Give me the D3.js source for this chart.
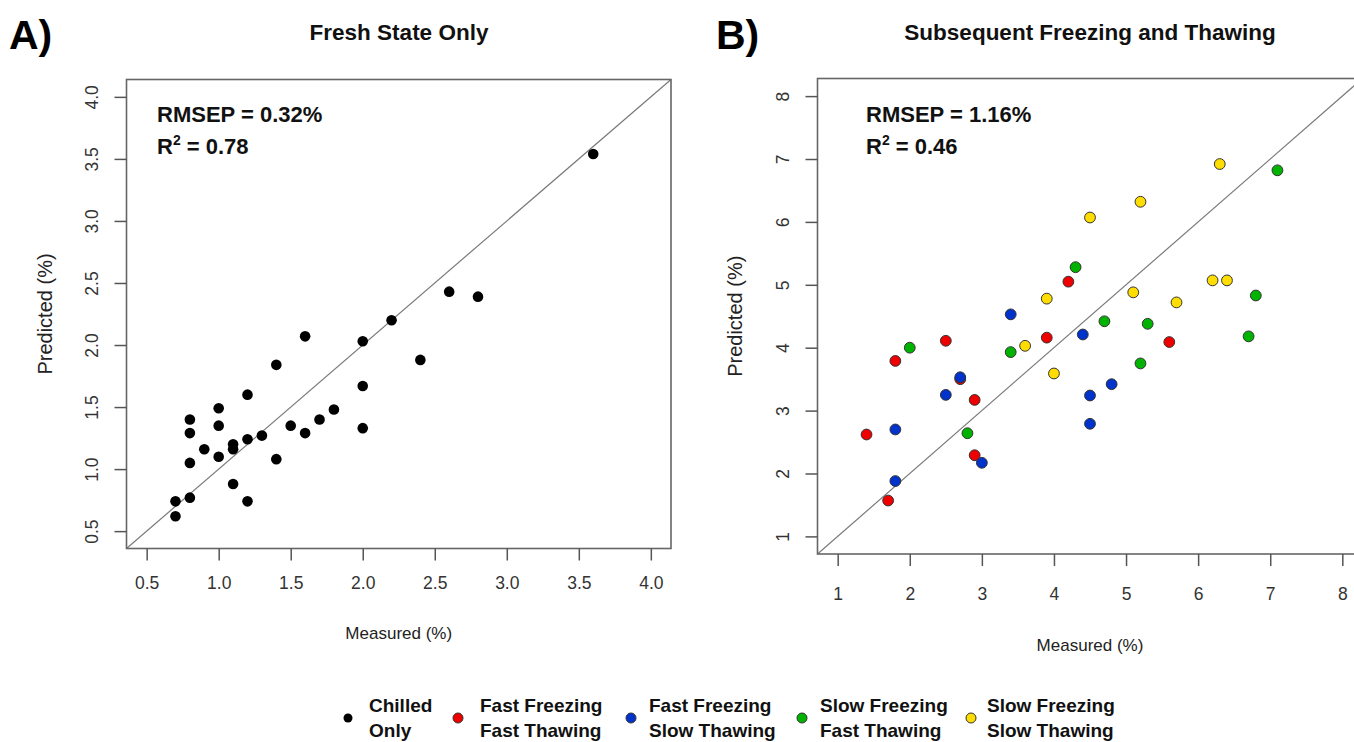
<!DOCTYPE html>
<html><head><meta charset="utf-8">
<script src="https://cdn.jsdelivr.net/npm/d3@7"></script>
<style>
html,body{margin:0;padding:0;background:#fff;overflow:hidden;}
text{font-family:"Liberation Sans",Arial,sans-serif;}
</style></head>
<body>
<svg id="chart" width="1354" height="742"></svg>
<script>
// ---------- DATA ----------
const ticksA = [0.5, 1.0, 1.5, 2.0, 2.5, 3.0, 3.5, 4.0];
const ticksB = [1, 2, 3, 4, 5, 6, 7, 8];

// Panel A: Chilled only (measured, predicted)
const chilledX = [3.6, 2.6, 2.8, 2.2, 1.6, 2.0, 1.4, 2.4, 2.0, 1.2, 1.0, 1.8, 0.8, 1.7, 1.0, 1.5, 2.0, 0.8, 1.6, 1.3, 1.2, 1.1, 1.1, 0.9, 1.0, 1.4, 0.8, 1.1, 0.8, 0.7, 1.2, 0.7];
const chilledY = [3.54, 2.43, 2.39, 2.20, 2.07, 2.03, 1.84, 1.88, 1.67, 1.60, 1.49, 1.48, 1.40, 1.40, 1.35, 1.35, 1.33, 1.29, 1.29, 1.27, 1.24, 1.20, 1.16, 1.16, 1.10, 1.08, 1.05, 0.88, 0.77, 0.74, 0.74, 0.62];

// Panel B
const ffftX = [4.2, 3.9, 2.5, 5.6, 1.8, 2.7, 2.9, 1.4, 2.9, 1.7];
const ffftY = [5.05, 4.16, 4.11, 4.09, 3.79, 3.50, 3.17, 2.62, 2.29, 1.57];
const ffstX = [3.4, 4.4, 2.7, 4.8, 2.5, 4.5, 1.8, 4.5, 3.0, 1.8];
const ffstY = [4.53, 4.21, 3.53, 3.42, 3.25, 3.24, 2.70, 2.79, 2.17, 1.88];
const sfftX = [7.1, 4.3, 6.8, 4.7, 5.3, 6.7, 2.0, 3.4, 5.2, 2.8];
const sfftY = [6.82, 5.28, 4.83, 4.42, 4.38, 4.18, 4.00, 3.93, 3.75, 2.64];
const sfstX = [6.3, 5.2, 4.5, 6.2, 6.4, 5.1, 3.9, 5.7, 3.6, 4.0];
const sfstY = [6.92, 6.32, 6.07, 5.07, 5.07, 4.88, 4.78, 4.72, 4.03, 3.59];

const legendLine1 = ["Chilled", "Fast Freezing", "Fast Freezing", "Slow Freezing", "Slow Freezing"];
const legendLine2 = ["Only", "Fast Thawing", "Slow Thawing", "Fast Thawing", "Slow Thawing"];
const legendColors = ["#000000", "#ee0000", "#0033cc", "#00b300", "#ffdd00"];

// ---------- DRAW ----------
const svg = d3.select("#chart");
const LABEL = "'Lato','Open Sans',sans-serif";

function panel(opts) {
  const {x0, x1, y0, y1, lim, ticks, fmt, title, titleX, letter, letterX, rmsep, r2, statX, xlabY, ylabX, xPad} = opts;
  const ext = (lim[1] - lim[0]) * 0.04;
  const dom = [lim[0] - ext, lim[1] + ext];
  const x = d3.scaleLinear().domain(dom).range([x0, x1]);
  const y = d3.scaleLinear().domain(dom).range([y1, y0]);
  const g = svg.append("g");

  // diagonal 1:1 line
  g.append("line")
    .attr("x1", x(dom[0])).attr("y1", y(dom[0]))
    .attr("x2", x(dom[1])).attr("y2", y(dom[1]))
    .attr("stroke", "#7a7a7a").attr("stroke-width", 1.2);

  // box
  g.append("rect").attr("x", x0).attr("y", y0)
    .attr("width", x1 - x0).attr("height", y1 - y0)
    .attr("fill", "none").attr("stroke", "#666").attr("stroke-width", 1.6);

  // x axis
  const gx = g.append("g").attr("transform", `translate(0,${y1})`)
    .call(d3.axisBottom(x).tickValues(ticks).tickFormat(fmt).tickSize(12).tickPadding(xPad));
  gx.select(".domain").remove();
  gx.selectAll(".tick line").attr("stroke", "#555").attr("stroke-width", 1.5);
  gx.selectAll(".tick text").attr("font-size", 17.5).attr("fill", "#333")
    .attr("font-family", "'Liberation Sans',Arial,sans-serif");

  // y axis
  const gy = g.append("g").attr("transform", `translate(${x0},0)`)
    .call(d3.axisLeft(y).tickValues(ticks).tickFormat(fmt).tickSize(12));
  gy.select(".domain").remove();
  gy.selectAll(".tick line").attr("stroke", "#555").attr("stroke-width", 1.5);
  gy.selectAll(".tick text").attr("font-size", 17.5).attr("fill", "#333")
    .attr("font-family", "'Liberation Sans',Arial,sans-serif")
    .attr("x", null).attr("dy", null)
    .attr("text-anchor", "middle")
    .attr("transform", "translate(-29,0) rotate(-90)");

  // axis labels
  g.append("text").attr("x", (x0 + x1) / 2).attr("y", xlabY)
    .attr("text-anchor", "middle").attr("font-size", 17).attr("fill", "#222")
    .text("Measured (%)");
  g.append("text").attr("transform", `translate(${ylabX},${(y0 + y1) / 2}) rotate(-90)`)
    .attr("text-anchor", "middle").attr("font-size", 20).attr("fill", "#222")
    .text("Predicted (%)");

  // title and letter
  g.append("text").attr("x", titleX).attr("y", 40).attr("text-anchor", "middle")
    .attr("font-size", 22.5).attr("font-weight", "bold").attr("fill", "#111").text(title);
  g.append("text").attr("x", letterX).attr("y", 49)
    .attr("font-size", 41).attr("font-weight", "bold").attr("fill", "#000").text(letter);

  // stats
  g.append("text").attr("x", statX).attr("y", 122).attr("font-family", LABEL)
    .attr("font-size", 22).attr("font-weight", "bold").attr("fill", "#111").text(rmsep);
  const t2 = g.append("text").attr("x", statX).attr("y", 154).attr("font-family", LABEL)
    .attr("font-size", 22).attr("font-weight", "bold").attr("fill", "#111");
  t2.append("tspan").text("R");
  t2.append("tspan").attr("font-size", 14).attr("dy", -9).text("2");
  t2.append("tspan").attr("dy", 9).text(" = " + r2);

  return {g, x, y};
}

const A = panel({x0: 126.5, x1: 671, y0: 79.5, y1: 548.5, lim: [0.5, 4.0], ticks: ticksA,
  fmt: d3.format(".1f"), title: "Fresh State Only", titleX: 399, letter: "A)", letterX: 9,
  rmsep: "RMSEP = 0.32%", r2: "0.78", statX: 157, xlabY: 639, ylabX: 52, xPad: 16});

const chilled = chilledX.map((v, i) => ({x: v, y: chilledY[i]}));
A.g.append("g").selectAll("circle").data(chilled).join("circle")
  .attr("cx", d => A.x(d.x)).attr("cy", d => A.y(d.y)).attr("r", 5.3).attr("fill", "#000");

const B = panel({x0: 817.5, x1: 1362.5, y0: 78.5, y1: 554, lim: [1, 8], ticks: ticksB,
  fmt: d3.format("d"), title: "Subsequent Freezing and Thawing", titleX: 1090, letter: "B)", letterX: 716,
  rmsep: "RMSEP = 1.16%", r2: "0.46", statX: 866, xlabY: 651, ylabX: 742, xPad: 22});

const seriesB = [
  {xs: ffftX, ys: ffftY, c: legendColors[1]},
  {xs: ffstX, ys: ffstY, c: legendColors[2]},
  {xs: sfftX, ys: sfftY, c: legendColors[3]},
  {xs: sfstX, ys: sfstY, c: legendColors[4]}
];
const ptsB = [];
seriesB.forEach(s => s.xs.forEach((v, i) => ptsB.push({x: v, y: s.ys[i], c: s.c})));
B.g.append("g").selectAll("circle").data(ptsB).join("circle")
  .attr("cx", d => B.x(d.x)).attr("cy", d => B.y(d.y)).attr("r", 5.4)
  .attr("fill", d => d.c).attr("stroke", "#333").attr("stroke-width", 1);

// legend
const legX = [348, 458, 631, 802, 971];
const legTextX = [369, 480, 649, 820, 987];
const leg = svg.append("g");
legendColors.forEach((c, i) => {
  leg.append("circle").attr("cx", legX[i]).attr("cy", 718).attr("r", i === 0 ? 4.5 : 5)
    .attr("fill", c).attr("stroke", i === 0 ? "none" : "#333").attr("stroke-width", 1);
  const t = leg.append("text").attr("x", legTextX[i]).attr("font-family", LABEL)
    .attr("font-size", 19).attr("font-weight", "bold").attr("fill", "#111");
  t.append("tspan").attr("x", legTextX[i]).attr("y", 712).text(legendLine1[i]);
  t.append("tspan").attr("x", legTextX[i]).attr("y", 737).text(legendLine2[i]);
});
</script>
</body></html>
